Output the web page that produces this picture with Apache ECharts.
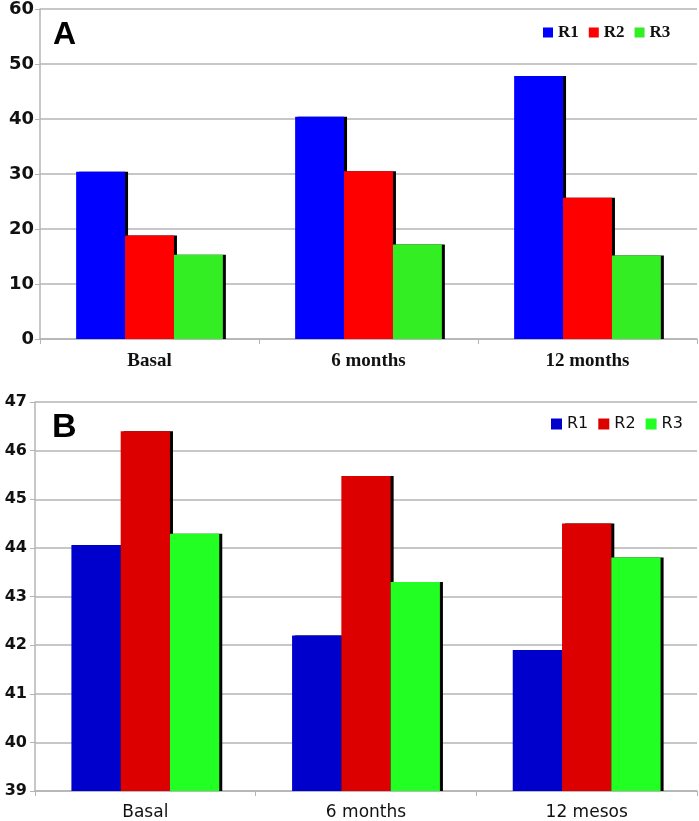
<!DOCTYPE html>
<html>
<head>
<meta charset="utf-8">
<script src="https://cdn.jsdelivr.net/npm/echarts@6/dist/echarts.min.js"></script>
<style>
  html, body { margin: 0; padding: 0; background: #fff; }
  #chart { width: 699px; height: 821px; }
</style>
</head>
<body>
<div id="chart"></div>
<script>
const seriesNames = ['R1', 'R2', 'R3'];

// Panel A
const categoriesA = ['Basal', '6 months', '12 months'];
const r1A = [30.4, 40.4, 47.8];
const r2A = [18.8, 30.5, 25.7];
const r3A = [15.3, 17.2, 15.2];

// Panel B
const categoriesB = ['Basal', '6 months', '12 mesos'];
const r1B = [44.06, 42.2, 41.9];
const r2B = [46.4, 45.48, 44.5];
const r3B = [44.29, 43.3, 43.8];

const colorsA = ['#0000ff', '#ff0000', '#33ee22'];
const colorsB = ['#0000cc', '#dd0000', '#22ff22'];

const gridLine = '#b4b4b4';

const chart = echarts.init(document.getElementById('chart'));

function barSeries(name, data, color, axisIndex) {
    return {
        name: name,
        type: 'bar',
        xAxisIndex: axisIndex,
        yAxisIndex: axisIndex,
        data: data,
        barGap: '0%',
        barCategoryGap: '33%',
        itemStyle: {
            color: color,
            shadowColor: '#000',
            shadowBlur: 0,
            shadowOffsetX: 3,
            shadowOffsetY: 0
        },
        emphasis: { disabled: true }
    };
}

function legendData(colors) {
    return seriesNames.map((n, i) => ({
        name: n,
        itemStyle: { color: colors[i], shadowBlur: 0, shadowOffsetX: 0, shadowOffsetY: 0, shadowColor: 'transparent' }
    }));
}

function catAxis(data, gridIndex, labelFont) {
    return {
        type: 'category',
        gridIndex: gridIndex,
        data: data,
        axisLine: { lineStyle: { color: gridLine, width: 1.5 } },
        axisTick: { show: true, length: 5, lineStyle: { color: gridLine } },
        axisLabel: Object.assign({ color: '#111', margin: 13 }, labelFont)
    };
}

function valAxis(min, max, step, gridIndex, fontSize, margin) {
    return {
        type: 'value',
        gridIndex: gridIndex,
        min: min,
        max: max,
        interval: step,
        axisLine: { show: true, lineStyle: { color: gridLine, width: 1.5 } },
        axisTick: { show: true, length: 5, lineStyle: { color: gridLine } },
        splitLine: { lineStyle: { color: gridLine, width: 1.5 } },
        axisLabel: {
            color: '#111',
            fontFamily: 'DejaVu Sans',
            fontWeight: 'bold',
            fontSize: fontSize,
            margin: margin
        }
    };
}

const option = {
    animation: false,
    backgroundColor: '#fff',
    title: [
        { text: 'A', left: 48, top: 14, textStyle: { fontFamily: 'Liberation Sans', fontWeight: 'bold', fontSize: 32, color: '#000' } },
        { text: 'B', left: 47, top: 406, textStyle: { fontFamily: 'Liberation Sans', fontWeight: 'bold', fontSize: 34, color: '#000' } }
    ],
    legend: [
        {
            data: legendData(colorsA),
            left: 538, top: 19,
            icon: 'rect', itemWidth: 10, itemHeight: 10, itemGap: 10,
            selectedMode: false,
            textStyle: { fontFamily: 'Liberation Serif', fontWeight: 'bold', fontSize: 17, color: '#111' }
        },
        {
            data: legendData(colorsB),
            left: 546, top: 411,
            icon: 'rect', itemWidth: 11, itemHeight: 11, itemGap: 10,
            selectedMode: false,
            textStyle: { fontFamily: 'DejaVu Sans', fontSize: 16, color: '#111' }
        }
    ],
    grid: [
        { left: 40, right: 2, top: 8, height: 331 },
        { left: 35, right: 2, top: 402, height: 390 }
    ],
    xAxis: [
        catAxis(categoriesA, 0, { fontFamily: 'Liberation Serif', fontWeight: 'bold', fontSize: 19 }),
        catAxis(categoriesB, 1, { fontFamily: 'DejaVu Sans', fontSize: 17 })
    ],
    yAxis: [
        valAxis(0, 60, 10, 0, 18, 6),
        valAxis(39, 47, 1, 1, 16, 8)
    ],
    series: [
        barSeries('R1', r1A, colorsA[0], 0),
        barSeries('R2', r2A, colorsA[1], 0),
        barSeries('R3', r3A, colorsA[2], 0),
        barSeries('R1', r1B, colorsB[0], 1),
        barSeries('R2', r2B, colorsB[1], 1),
        barSeries('R3', r3B, colorsB[2], 1)
    ]
};

chart.setOption(option);
</script>
</body>
</html>
